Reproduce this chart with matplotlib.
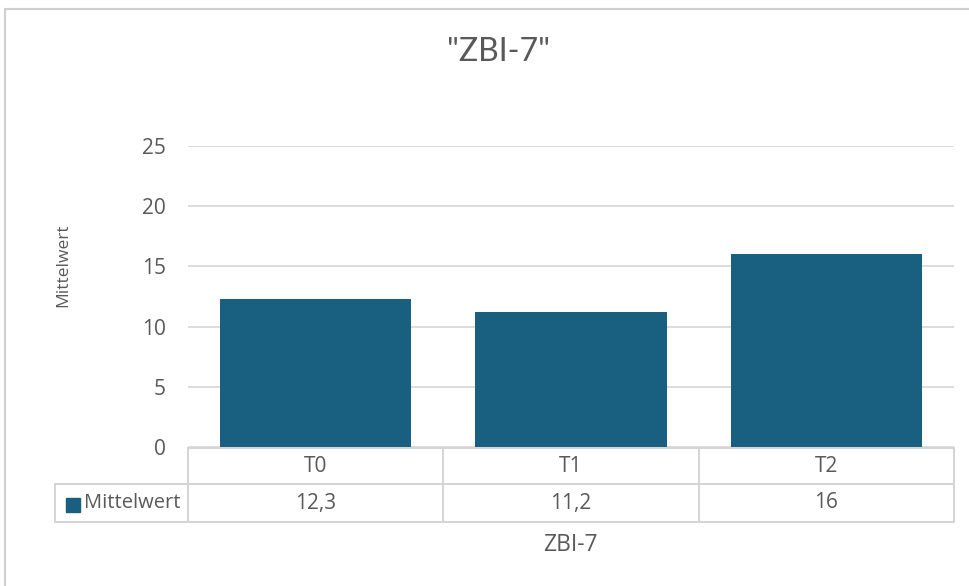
import matplotlib
matplotlib.use("Agg")
import matplotlib.pyplot as plt
from matplotlib.lines import Line2D
from matplotlib.patches import Rectangle
from matplotlib.transforms import blended_transform_factory

categories = ["T0", "T1", "T2"]
values = [12.3, 11.2, 16]
value_labels = ["12,3", "11,2", "16"]
series_name = "Mittelwert"
title = '"ZBI-7"'
x_title = "ZBI-7"
y_title = "Mittelwert"
y_ticks = [0, 5, 10, 15, 20, 25]

BAR = "#195f80"
TXT = "#595959"
GRID = "#d9d9d9"
W, H = 970, 586

plt.rcParams["font.family"] = ["Open Sans", "DejaVu Sans"]

fig = plt.figure(figsize=(W / 100, H / 100), dpi=100)

def fx(px):
    return px / W

def fy(py):
    return 1 - py / H

# chart area border
fig.add_artist(Rectangle((fx(5), fy(600)), fx(980) - fx(5), fy(9) - fy(600),
                         transform=fig.transFigure, fill=False,
                         edgecolor="#d0d0d0", linewidth=1.5))

left, right, top, bottom = 188, 954, 146, 447
ax = fig.add_axes([fx(left), fy(bottom), fx(right) - fx(left), fy(top) - fy(bottom)])
x = list(range(len(categories)))
ax.bar(x, values, width=0.75, color=BAR, zorder=3)
ax.set_xlim(-0.5, len(categories) - 0.5)
ax.set_ylim(0, 25)
ax.set_yticks(y_ticks)
ax.set_yticklabels([str(t) for t in y_ticks], fontsize=15, color=TXT)
ax.tick_params(axis="y", length=0, pad=16)
ax.set_xticks([])
for s in ax.spines.values():
    s.set_visible(False)
ax.grid(axis="y", color=GRID, linewidth=1.3, zorder=0)

# data table under the plot
def hline(x0, x1, y):
    fig.add_artist(Line2D([fx(x0), fx(x1)], [fy(y), fy(y)], transform=fig.transFigure,
                          color="#d4d4d4", linewidth=1.4))

def vline(x, y0, y1):
    fig.add_artist(Line2D([fx(x), fx(x)], [fy(y0), fy(y1)], transform=fig.transFigure,
                          color="#d4d4d4", linewidth=1.4))

row0, row1, row2 = 448, 484, 522
hline(left, right, row0)
hline(55, right, row1)
hline(55, right, row2)
vline(55, row1, row2)
n = len(categories)
for i in range(n + 1):
    vline(left + (right - left) * i / n, row0, row2)

tr = blended_transform_factory(ax.transData, fig.transFigure)
for i, (c, v) in enumerate(zip(categories, value_labels)):
    ax.text(i, fy((row0 + row1) / 2), c, transform=tr, ha="center", va="center",
            fontsize=15, color=TXT, clip_on=False)
    ax.text(i, fy((row1 + row2) / 2), v, transform=tr, ha="center", va="center",
            fontsize=15, color=TXT, clip_on=False)

fig.add_artist(Rectangle((fx(66), fy(512)), fx(14), fy(498) - fy(512),
                         transform=fig.transFigure, color=BAR))
fig.text(fx(84), fy((row1 + row2) / 2), series_name, ha="left", va="center",
         fontsize=14.5, color=TXT)

fig.text(fx(570), fy(545), x_title, ha="center", va="center", fontsize=16.5, color=TXT)
fig.text(fx(63), fy(265), y_title, ha="center", va="center", rotation=90,
         fontsize=12.5, color=TXT)
fig.text(fx(499), fy(52), title, ha="center", va="center", fontsize=23, color=TXT,
         family=["Lato", "DejaVu Sans"])

fig.savefig("out.png", dpi=100, facecolor="white")
